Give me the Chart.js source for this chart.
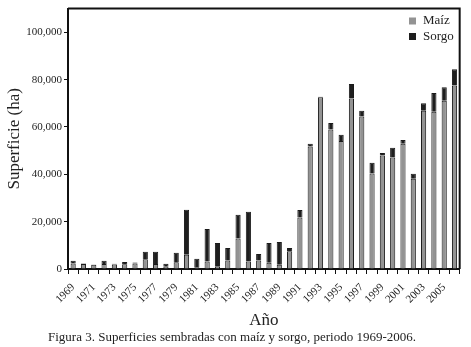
<!DOCTYPE html>
<html>
<head>
<meta charset="utf-8">
<script src="https://cdn.jsdelivr.net/npm/chart.js@4"></script>
<style>
  body { margin: 0; background: #fff; }
  #wrap { position: relative; width: 471px; height: 347px; }
  #caption { position: absolute; left: 48px; top: 329px; font: 13px "Liberation Serif", serif; color: #222; white-space: nowrap; }
</style>
</head>
<body>
<div id="wrap">
  <canvas id="chart" width="471" height="347"></canvas>
  <div id="caption">Figura 3. Superficies sembradas con maíz y sorgo, periodo 1969-2006.</div>
</div>
<script>
const years = [];
for (let y = 1969; y <= 2006; y++) years.push(String(y));

const maiz = [2300, 2100, 1800, 2100, 1900, 2000, 2300, 4100, 2100, 1000,
  2800, 6000, 700, 3200, 1000, 3600, 12900, 3200, 3600, 2650,
  1800, 7450, 21800, 51700, 72500, 58900, 54100, 72000, 64400, 40300,
  47900, 47100, 52900, 38100, 66900, 66400, 71100, 77500];

const sorgo = [1200, 200, 100, 1400, 300, 1000, 400, 3200, 5200, 1200,
  4100, 19000, 3650, 13700, 10000, 5260, 10000, 21000, 2700, 8350,
  9600, 1400, 3100, 1200, 300, 2800, 2600, 6200, 2400, 4600,
  1100, 4100, 1600, 2100, 3100, 7900, 5700, 6900];

const yTicks = [0, 20000, 40000, 60000, 80000, 100000];

const serif = '"Liberation Serif", "Times New Roman", serif';
const ink = '#222';

// frame on top and right of the plot
const framePlugin = {
  id: 'frame',
  afterDraw(chart){
    const a = chart.chartArea;
    const ctx = chart.ctx;
    ctx.save();
    ctx.strokeStyle = '#111';
    ctx.lineWidth = 2;
    ctx.beginPath();
    ctx.moveTo(a.left, a.top);
    ctx.lineTo(a.right, a.top);
    ctx.lineTo(a.right, a.bottom);
    ctx.stroke();
    ctx.restore();
  }
};

// legend in the top right corner
const legendPlugin = {
  id: 'cornerLegend',
  afterDraw(chart){
    const ctx = chart.ctx;
    ctx.save();
    ctx.font = '13px ' + serif;
    ctx.textBaseline = 'middle';
    chart.data.datasets.forEach((ds, i) => {
      const y = 21 + i * 15.5;
      ctx.fillStyle = ds.backgroundColor;
      ctx.fillRect(409, y - 3.5, 7, 7);
      ctx.fillStyle = ink;
      ctx.fillText(ds.label, 423, y);
    });
    ctx.restore();
  }
};

const ctx = document.getElementById('chart').getContext('2d');
new Chart(ctx, {
  type: 'bar',
  data: {
    labels: years,
    datasets: [
      { label: 'Maíz', data: maiz, backgroundColor: '#939393', borderColor: '#1a1a1a', borderWidth: 1 },
      { label: 'Sorgo', data: sorgo, backgroundColor: '#1e1e1e', borderColor: '#1a1a1a', borderWidth: 1 }
    ]
  },
  options: {
    responsive: false,
    animation: false,
    layout: { padding: { top: 7, right: 11, bottom: 18, left: 0 } },
    datasets: { bar: { categoryPercentage: 1, barPercentage: 0.5 } },
    plugins: {
      legend: { display: false },
      tooltip: { enabled: false }
    },
    scales: {
      x: {
        stacked: true,
        afterFit: s => { s.height = 347 - 18 - 269; },
        grid: { offset: true, drawOnChartArea: false, tickLength: 5, color: '#111' },
        border: { color: '#111', width: 2 },
        ticks: {
          autoSkip: false,
          maxRotation: 45,
          minRotation: 45,
          padding: 7,
          color: ink,
          font: { family: serif, size: 11 },
          callback: (v, i) => i % 2 === 0 ? years[i] : ''
        },
        title: {
          display: true,
          text: 'Año',
          color: ink,
          font: { family: serif, size: 17, lineHeight: 1 },
          padding: { top: 0, bottom: 0 }
        }
      },
      y: {
        stacked: true,
        min: 0,
        max: 110000,
        afterFit: s => { s.width = 68; },
        afterBuildTicks: s => { s.ticks = yTicks.map(v => ({ value: v })); },
        grid: { drawOnChartArea: false, tickLength: 4, color: '#111' },
        border: { color: '#111', width: 2 },
        ticks: {
          padding: 2,
          color: ink,
          font: { family: serif, size: 11 },
          callback: v => v.toLocaleString('en-US')
        },
        title: {
          display: true,
          text: 'Superficie (ha)',
          color: ink,
          font: { family: serif, size: 17, lineHeight: 1 },
          padding: { top: 6, bottom: 0 }
        }
      }
    }
  },
  plugins: [framePlugin, legendPlugin]
});
</script>
</body>
</html>
